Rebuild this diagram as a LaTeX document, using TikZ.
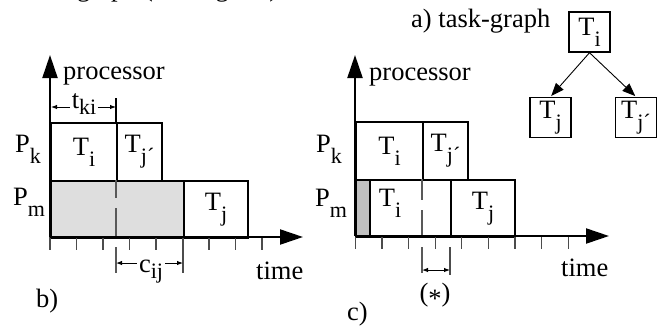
\documentclass[tikz,border=0pt]{standalone}
\usepackage{fontspec}
\setmainfont{Liberation Serif}
\usetikzlibrary{arrows.meta}
\newcommand\sbs[2][0.42em]{\raisebox{-#1}{\fontsize{22}{24}\selectfont #2}}
\definecolor{greyA}{HTML}{DEDEDE}
\definecolor{greyB}{HTML}{C0C0C0}
\begin{document}
\begin{tikzpicture}[x=1pt,y=-1pt,
  every node/.style={font=\fontsize{26.5}{30}\selectfont, inner sep=0pt},
  gbox/.style={draw, line width=2.1pt, anchor=north west, align=center},
  axis/.style={line width=2.1pt, -{Triangle[length=23pt,width=15pt]}},
  tickl/.style={draw=black!70, line width=1.2pt},
  dashl/.style={draw=black!65, line width=1.2pt},
  dimar/.style={line width=1pt, {Latex[length=6pt,width=4.5pt]}-{Latex[length=6pt,width=4.5pt]}},
  dimone/.style={line width=1pt, -{Latex[length=6pt,width=4.5pt]}},
  tgbox/.style={draw, line width=1.4pt, minimum width=41pt, minimum height=40pt},
  tgarrow/.style={line width=0.9pt, -{Triangle[length=13pt,width=10pt]}, shorten >=1pt}
]
\useasboundingbox (0,0) rectangle (664,325);

% cropped caption text at the top
\begin{scope}
  \clip (0,0) rectangle (664,9);
  \node[anchor=base west] (toptext) at (-13.5,-4) {the task-graph (see Fig. 3a).};
\end{scope}

% ================= panel b =================
\node[gbox, minimum width=66pt, minimum height=58pt] (bTi) at (50,122) {T\sbs{i}};
\node[gbox, minimum width=45pt, minimum height=58pt] (bTjp) at (116,122) {T\sbs{j´}};
\node[gbox, fill=greyA, minimum width=133pt, minimum height=57pt] (bGrey) at (50,180) {};
\node[gbox, minimum width=64pt, minimum height=57pt] (bTj) at (183,180) {T\sbs{j}};

\coordinate (bO) at (50,237);
\coordinate (bY) at (50,55);
\coordinate (bX) at (303,237);
\foreach \i in {0,...,8} \draw[tickl] (50+26.5*\i,237) -- ++(0,13);
\coordinate (bD1) at (116,180);
\coordinate (bD2) at (116,273);
\draw[dashl, dash pattern=on 18pt off 10pt on 29pt off 10pt on 40pt] (bD1) -- (bD2);
\coordinate (bE1) at (183,237);
\coordinate (bE2) at (183,273);
\draw[tickl] (bE1) -- (bE2);
\draw[axis] (bO) -- (bY);
\draw[axis] (bO) -- (bX);

\node[anchor=base west] (bproc) at (63,79) {processor};
\node[anchor=base west] (btime) at (256,279) {time};
\node[anchor=base west] (blab) at (36,307) {b)};
\node[anchor=base west] (bPk) at (15,152) {P\sbs{k}};
\node[anchor=base west] (bPm) at (13,205) {P\sbs{m}};

% t_ki
\coordinate (tT1) at (116,98);
\coordinate (tT2) at (116,122);
\draw[tickl, draw=black] (tT1) -- (tT2);
\node[anchor=base, inner xsep=1.5pt] (tki) at (84,108) {t\sbs[0.26em]{ki}};
\coordinate (tL) at (51,107);
\coordinate (tR) at (116,107);
\draw[dimone] (tL -| tki.west) -- (tL);
\draw[dimone] (tR -| tki.east) -- (tR);

% c_ij
\node[anchor=base, inner xsep=2pt] (cij) at (151,272) {c\sbs[0.26em]{ij}};
\coordinate (cL) at (116,263);
\coordinate (cR) at (183,263);
\draw[dimone] (cL -| cij.west) -- (cL);
\draw[dimone] (cR -| cij.east) -- (cR);

% ================= panel c =================
\node[gbox, minimum width=67pt, minimum height=58pt] (cTi) at (355,121) {T\sbs{i}};
\node[gbox, minimum width=45pt, minimum height=58pt] (cTjp) at (422,121) {T\sbs{j´}};
\node[gbox, fill=greyB, minimum width=14pt, minimum height=57pt] (cGrey) at (355,179) {};
\node[gbox, minimum width=81pt, minimum height=57pt] (cTi2) at (369,179) {};
\node[gbox, minimum width=64pt, minimum height=57pt] (cTj) at (450,179) {T\sbs{j}};
\node[anchor=base] (cTiText) at (390,206) {T\sbs{i}};

\coordinate (cO) at (355,236);
\coordinate (cY) at (355,55);
\coordinate (cX) at (609,236);
\foreach \i in {0,...,8} \draw[tickl] (355.3+26.6*\i,236) -- ++(0,13);
\coordinate (cD1) at (422,179);
\coordinate (cD2) at (422,273);
\draw[dashl, dash pattern=on 21pt off 10pt on 26pt off 11pt on 40pt] (cD1) -- (cD2);
\coordinate (cE1) at (450,247);
\coordinate (cE2) at (450,275);
\draw[tickl] (cE1) -- (cE2);
\draw[axis] (cO) -- (cY);
\draw[axis] (cO) -- (cX);

\coordinate (sL) at (422,270);
\coordinate (sR) at (450,270);
\draw[dimar] (sL) -- (sR);
\node (star) at (435,295) {(\raisebox{-0.22em}{*})};

\node[anchor=base west] (cproc) at (369,80) {processor};
\node[anchor=base west] (ctime) at (561,276) {time};
\node[anchor=base west] (clab) at (347,320) {c)};
\node[anchor=base west] (cPk) at (316,152) {P\sbs{k}};
\node[anchor=base west] (cPm) at (315,206) {P\sbs{m}};

% ================= task graph (a) =================
\node[anchor=base west] (alab) at (411,27) {a) task-graph};
\node[tgbox] (gTi) at (589.5,32) {T\sbs{i}};
\node[tgbox] (gTj) at (550.5,117.5) {T\sbs{j}};
\node[tgbox] (gTjp) at (636,117.5) {T\sbs{j´}};
\draw[tgarrow] (gTi.south) -- (gTj.north);
\draw[tgarrow] (gTi.south) -- (gTjp.north);
\end{tikzpicture}
\end{document}
